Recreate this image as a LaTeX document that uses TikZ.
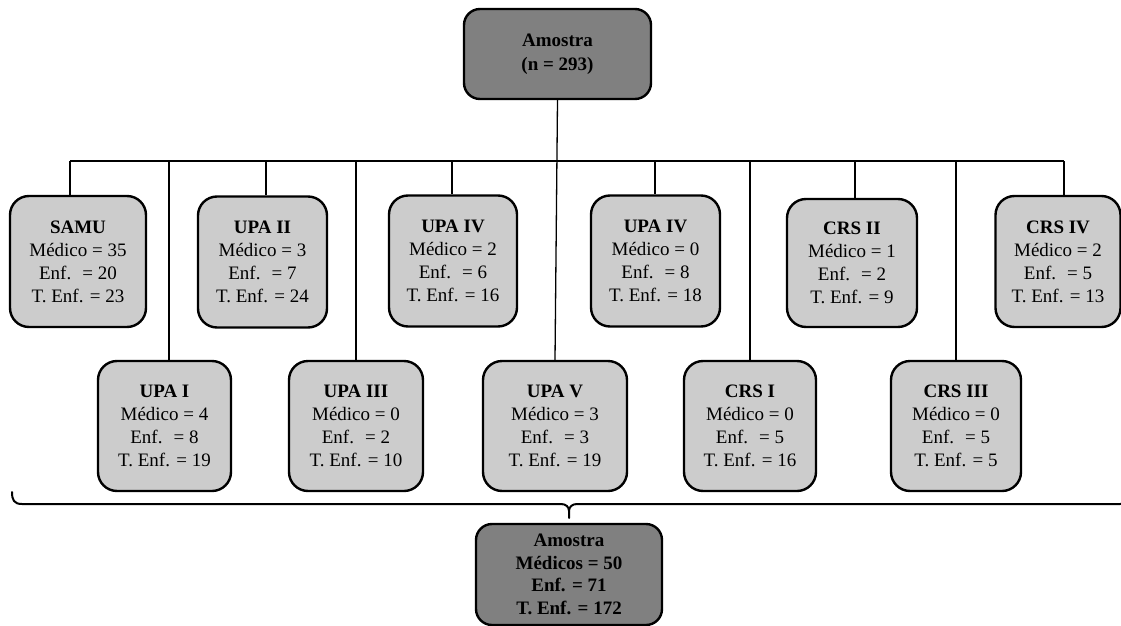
\documentclass[tikz,border=0pt]{standalone}
\usepackage{fontspec}
\setmainfont{Liberation Serif}
\definecolor{darkbox}{HTML}{808080}
\definecolor{lightbox}{HTML}{CCCCCC}
\begin{document}
\begin{tikzpicture}[x=1pt,y=-1pt,
  unitbox/.style={draw=black, line width=2.4pt, fill=lightbox, rounded corners=19pt,
    inner sep=0pt, align=center, font=\fontsize{19}{23}\selectfont,
    minimum height=131pt},
  totalbox/.style={draw=black, line width=2.4pt, fill=darkbox, rounded corners=16pt,
    inner sep=0pt, align=center, font=\fontsize{19}{23}\selectfont\bfseries},
  link/.style={draw=black, line width=1.3pt},
  bracepath/.style={draw=black, line width=2pt, line cap=round, line join=round}
]
\useasboundingbox (0,0) rectangle (1121,626);

% root sample
\node[totalbox, minimum width=187pt, minimum height=90pt,
      font=\fontsize{19}{24}\selectfont\bfseries] (root) at (557.5,54) {Amostra\\(n = 293)};

% upper row of units
\node[unitbox, minimum width=136pt] (samu) at (78,261.5) {\textbf{SAMU}\\Médico = 35\\Enf.~ = 20\\T. Enf. = 23};
\node[unitbox, minimum width=129pt] (upa2) at (262.5,262) {\textbf{UPA II}\\Médico = 3\\Enf.~ = 7\\T. Enf. = 24};
\node[unitbox, minimum width=128pt] (upa4a) at (453,261) {\textbf{UPA IV}\\Médico = 2\\Enf.~ = 6\\T. Enf. = 16};
\node[unitbox, minimum width=129pt] (upa4b) at (655.5,261) {\textbf{UPA IV}\\Médico = 0\\Enf.~ = 8\\T. Enf. = 18};
\node[unitbox, minimum width=130pt, minimum height=128pt] (crs2) at (852,263) {\textbf{CRS II}\\Médico = 1\\Enf.~ = 2\\T. Enf. = 9};
\node[unitbox, minimum width=125pt] (crs4) at (1058,261.5) {\textbf{CRS IV}\\Médico = 2\\Enf.~ = 5\\T. Enf. = 13};

% lower row of units
\node[unitbox, minimum width=133pt, minimum height=130pt] (upa1) at (164.5,426) {\textbf{UPA I}\\Médico = 4\\Enf.~ = 8\\T. Enf. = 19};
\node[unitbox, minimum width=134pt, minimum height=130pt] (upa3) at (356,426) {\textbf{UPA III}\\Médico = 0\\Enf.~ = 2\\T. Enf. = 10};
\node[unitbox, minimum width=144pt, minimum height=130pt] (upa5) at (555,426) {\textbf{UPA V}\\Médico = 3\\Enf.~ = 3\\T. Enf. = 19};
\node[unitbox, minimum width=132pt, minimum height=130pt] (crs1) at (750,426) {\textbf{CRS I}\\Médico = 0\\Enf.~ = 5\\T. Enf. = 16};
\node[unitbox, minimum width=130pt, minimum height=130pt] (crs3) at (956,426) {\textbf{CRS III}\\Médico = 0\\Enf.~ = 5\\T. Enf. = 5};

% final totals
\node[totalbox, minimum width=186pt, minimum height=101pt,
      font=\fontsize{19}{22.7}\selectfont\bfseries] (total) at (569,574.5) {Amostra\\Médicos = 50\\Enf. = 71\\T. Enf. = 172};

% distribution bus
\coordinate (busL) at (70,161);
\coordinate (busR) at (1064,161);
\draw[link] (busL) -- (busR);
\draw[link] (root.south) -- (upa5.north);
\foreach \n/\x in {samu/70, upa2/266, upa4a/452, upa4b/655, crs2/855, crs4/1064}
  \draw[link] (\x,161) -- (\x,0 |- \n.north);
\foreach \n/\x in {upa1/169, upa3/356, crs1/750, crs3/956}
  \draw[link] (\x,161) -- (\x,0 |- \n.north);

% gathering brace above the totals
\coordinate (brL) at (12,492);
\coordinate (brTip) at (569,518);
\coordinate (brR) at (1130,492);
\draw[bracepath] (brL) .. controls (12,500) and (14,504) .. (22,504)
  -- (561,504) .. controls (566,504) and (569,507) .. (569,511) -- (brTip);
\draw[bracepath] (569,511) .. controls (569,507) and (572,504) .. (577,504)
  -- (1120,504) .. controls (1128,504) and (1130,500) .. (brR);
\end{tikzpicture}
\end{document}
